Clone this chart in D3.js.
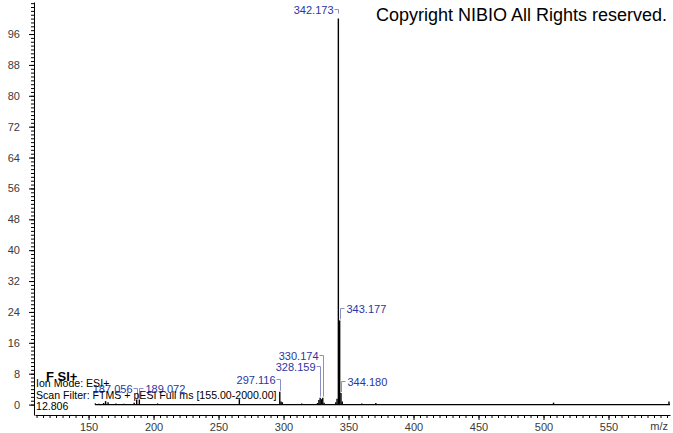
<!DOCTYPE html>
<meta charset="utf-8">
<style>
body { margin: 0; background: #fff; }
svg { display: block; font-family: "Liberation Sans", Arial, sans-serif; }
.axis text { font-size: 11px; fill: #3a3a3a; }
.axis path, .axis line { stroke: #000; }
.stick { stroke: #000; stroke-width: 1.4px; }
.peaklabel { font-size: 11px; fill: #2c35a3; }
.connector { fill: none; stroke: #8a8fc4; stroke-width: 1px; }
.info { font-size: 10.6px; fill: #000; }
</style>
<body>
<script src="https://d3js.org/d3.v7.min.js"></script>
<script>

// spectrum sticks (m/z, relative abundance %)
var mz = [155.2, 158.0, 161.6, 163.1, 165.0, 171.0, 177.1, 185.1, 187.056, 189.072,
          203.1, 266.0, 297.116, 298.1, 299.1, 314.0, 326.1, 327.2, 328.159, 329.16,
          330.174, 331.2, 340.2, 341.16, 342.173, 343.177, 344.180, 345.18, 360.2, 371.0,
          507.7, 596.5];
var intensity = [0.3, 0.2, 0.4, 0.9, 0.6, 0.3, 0.2, 0.5, 1.3, 1.3,
                 0.3, 1.4, 3.3, 0.8, 0.6, 0.3, 0.4, 1.2, 1.8, 1.4,
                 1.8, 0.5, 0.6, 1.5, 100, 21.8, 3.0, 0.8, 0.3, 0.4,
                 0.5, 0.8];

// annotated peaks
var labelMz = [342.173, 343.177, 344.180, 330.174, 328.159, 297.116, 187.056, 189.072];
var labelText = ["342.173", "343.177", "344.180", "330.174", "328.159", "297.116", "187.056", "189.072"];

// axis ticks
var xTicks = [150, 200, 250, 300, 350, 400, 450, 500, 550];
var yTicks = [0, 8, 16, 24, 32, 40, 48, 56, 64, 72, 80, 88, 96];

var infoLines = ["Ion Mode: ESI+", "Scan Filter: FTMS + pESI Full ms [155.00-2000.00]", "12.806"];

var width = 673, height = 433;

var svg = d3.select("body").append("svg")
    .attr("width", width)
    .attr("height", height);

var x = d3.scaleLinear().domain([108.8, 597.3]).range([35, 670]);
var y = d3.scaleLinear().domain([-2.7, 104.3]).range([415, 2]);

// minor x ticks
svg.append("g")
    .attr("class", "axis")
    .attr("transform", "translate(0,415)")
    .call(d3.axisBottom(x).tickValues(d3.range(110, 598, 5)).tickSize(3).tickSizeOuter(0).tickFormat(""));
// major x ticks
svg.append("g")
    .attr("class", "axis")
    .attr("transform", "translate(0,415)")
    .call(d3.axisBottom(x).tickValues(xTicks).tickSize(5).tickSizeOuter(0).tickPadding(3))
    .call(function(g) { g.select(".domain").remove(); })
    .selectAll("text").attr("font-family", null).attr("font-size", null);

// minor y ticks
svg.append("g")
    .attr("class", "axis")
    .attr("transform", "translate(34,0)")
    .call(d3.axisLeft(y).tickValues(d3.range(0, 105, 1)).tickSize(3).tickSizeOuter(0).tickFormat(""));
// major y ticks
svg.append("g")
    .attr("class", "axis")
    .attr("transform", "translate(34,0)")
    .call(d3.axisLeft(y).tickValues(yTicks).tickSize(5).tickSizeOuter(0).tickPadding(9))
    .call(function(g) { g.select(".domain").remove(); })
    .selectAll("text").attr("font-family", null).attr("font-size", null);

svg.append("text")
    .attr("x", 668).attr("y", 430)
    .attr("text-anchor", "end")
    .style("font-size", "11px").style("fill", "#3a3a3a")
    .text("m/z");

// baseline
svg.append("line")
    .attr("class", "stick")
    .attr("x1", x(155)).attr("x2", x(597.3))
    .attr("y1", y(0)).attr("y2", y(0));

// sticks
svg.selectAll(".peak")
    .data(mz)
  .enter().append("line")
    .attr("class", "stick peak")
    .attr("x1", function(d) { return x(d); })
    .attr("x2", function(d) { return x(d); })
    .attr("y1", y(0))
    .attr("y2", function(d, i) { return y(intensity[i]); });

// label placement: side of text and lift above the peak top (px)
var labelSide = ["left", "right", "right", "left", "left", "left", "left", "right"];
var labelLift = [10, 12, 12, 43, 32, 13, 12, 12];

labelMz.forEach(function(m, i) {
  var idx = mz.indexOf(m);
  var px = Math.round(x(m)) + 0.5;
  var top = y(intensity[idx]);
  var ly = Math.round(top - labelLift[i]) + 0.5;
  var bottom = i === 0 ? ly + 4 : top - 1;
  var hx = labelSide[i] === "left" ? px - 4 : px + 4;
  svg.append("path")
      .attr("class", "connector")
      .attr("d", "M" + hx + "," + ly + "H" + px + "V" + bottom);
  svg.append("text")
      .attr("class", "peaklabel")
      .attr("x", labelSide[i] === "left" ? px - 5 : px + 6)
      .attr("y", ly + 4)
      .attr("text-anchor", labelSide[i] === "left" ? "end" : "start")
      .text(labelText[i]);
});

// header text block
svg.append("text")
    .attr("x", 46).attr("y", 381)
    .style("font-size", "13px").style("font-weight", "bold")
    .text("F SI+");

svg.selectAll(".info")
    .data(infoLines)
  .enter().append("text")
    .attr("class", "info")
    .attr("x", 36)
    .attr("y", function(d, i) { return 387 + i * 11.5; })
    .text(function(d) { return d; });

svg.append("text")
    .attr("x", 376).attr("y", 21)
    .style("font-size", "18px").style("fill", "#000")
    .text("Copyright NIBIO All Rights reserved.");

</script>
</body>
